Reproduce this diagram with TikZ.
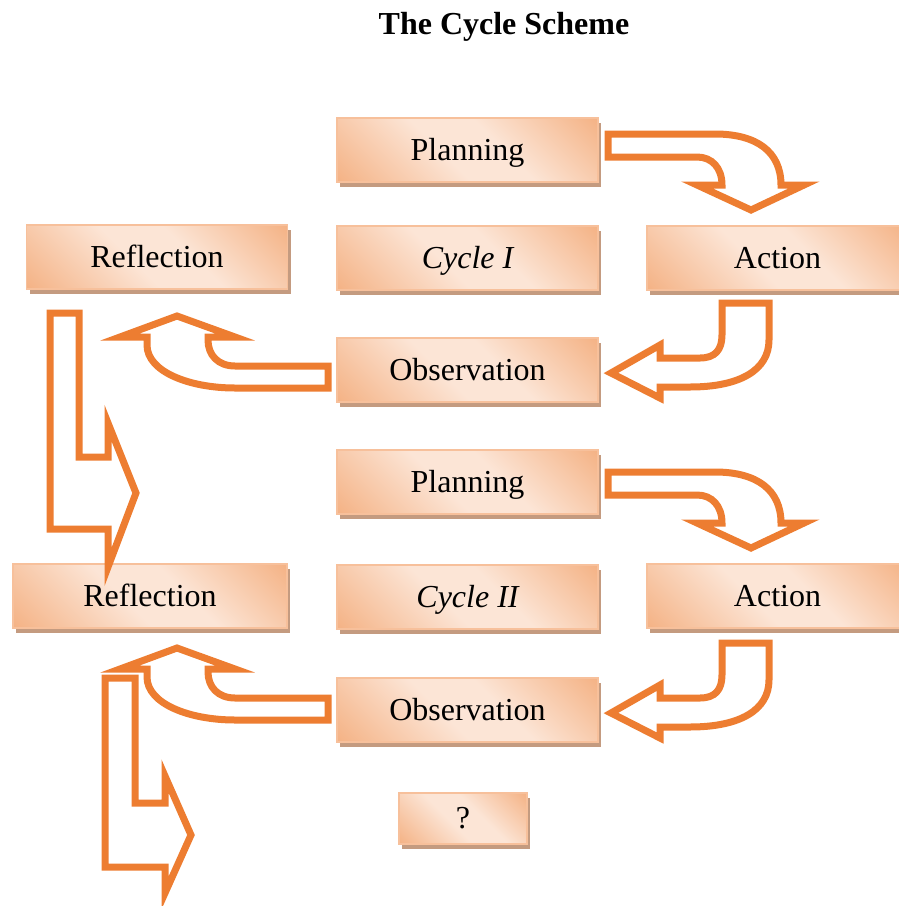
\documentclass[tikz,border=0pt]{standalone}
\usepackage{fontspec}
\setmainfont{Liberation Serif}
\usetikzlibrary{shadows}
\definecolor{arroworange}{RGB}{237,125,49}
\definecolor{boxdark}{RGB}{244,177,131}
\definecolor{boxlight}{RGB}{252,229,214}
\definecolor{boxrim}{RGB}{247,192,155}
\definecolor{boxshadow}{RGB}{196,155,128}
\pgfdeclarehorizontalshading{stageshade}{100bp}{color(0bp)=(boxdark);
    color(14bp)=(boxdark); color(44bp)=(boxlight); color(58bp)=(boxlight);
    color(86bp)=(boxdark); color(100bp)=(boxdark)}
\tikzset{
    stagebox/.style={draw=boxrim, line width=0.8pt,
        shading=stageshade, shading angle=45,
        minimum width=130.5pt, minimum height=32pt,
        inner sep=0pt, text height=12pt, text depth=2pt,
        font=\fontsize{16}{19}\selectfont,
        drop shadow={shadow xshift=1.5pt, shadow yshift=-2.5pt,
            fill=boxshadow, opacity=1}},
    blockarrow/.style={draw=arroworange, line width=3.5pt, line join=miter}
}
\begin{document}
\begin{tikzpicture}[x=0.5pt, y=-0.5pt]
        \useasboundingbox (0,0) rectangle (899,906);
        \node (title) at (504,27) {\fontsize{16}{19}\selectfont\bfseries The Cycle Scheme};
        \begin{scope}[every node/.style={stagebox}]
            \node (plan1) at (467.5,150) {Planning};
            \node (refl1) at (157,257) {Reflection};
            \node (cyc1) at (467.5,258) {\itshape Cycle I};
            \node (act1) at (777.5,258) {Action};
            \node (obs1) at (467.5,370) {Observation};
            \node (plan2) at (467.5,482) {Planning};
            \node[minimum width=137pt] (refl2) at (150,596) {Reflection};
            \node (cyc2) at (467.5,597) {\itshape Cycle II};
            \node (act2) at (777.5,596) {Action};
            \node (obs2) at (467.5,710) {Observation};
            \node[minimum width=64pt, minimum height=25.5pt] (qmark) at (463,818.5) {?};
        \end{scope}
        % planning -> action
        \foreach \dy in {0,338} {
            \draw[blockarrow, shift={(0,\dy)}] (608,134) -- (715,134)
                .. controls (757,134) and (781,152) .. (781,185) -- (804,185)
                -- (751,210) -- (697,185) -- (722,185)
                .. controls (722,168) and (712,157) .. (697,157) -- (608,157) -- cycle;
        }
        % action -> observation
        \foreach \dy in {0,340} {
            \draw[blockarrow, shift={(0,\dy)}] (722,303) -- (769,303) -- (769,340)
                .. controls (769,370) and (740,387) .. (690,387) -- (660,387)
                -- (660,398) -- (611,373) -- (660,345) -- (660,358) -- (700,358)
                .. controls (715,358) and (722,350) .. (722,335) -- cycle;
        }
        % observation -> reflection
        \foreach \dy in {0,332} {
            \draw[blockarrow, shift={(0,\dy)}] (328,366) -- (235,366)
                .. controls (218,366) and (208,355) .. (208,340) -- (208,337)
                -- (235,337) -- (177,316) -- (120,337) -- (147,337) -- (147,345)
                .. controls (147,372) and (190,388) .. (235,388) -- (328,388) -- cycle;
        }
        % reflection -> next cycle
        \draw[blockarrow] (50,313) -- (79,313) -- (79,457) -- (108,457) -- (108,423)
            -- (136,493) -- (108,567) -- (108,529) -- (50,529) -- cycle;
        \draw[blockarrow] (105,678) -- (135,678) -- (135,803) -- (165,803) -- (165,776)
            -- (191,835) -- (165,893) -- (165,867) -- (105,867) -- cycle;
\end{tikzpicture}
\end{document}
